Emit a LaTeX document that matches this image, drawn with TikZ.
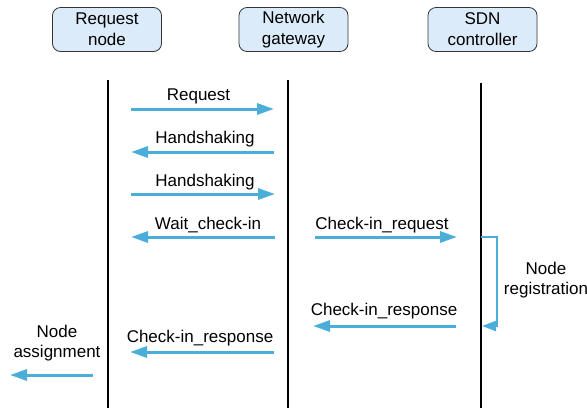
\documentclass[tikz,border=0pt]{standalone}
\usepackage{fontspec}
\setmainfont{Liberation Sans}
\usetikzlibrary{arrows.meta,positioning}

\definecolor{actorfill}{HTML}{DCEBF9}
\definecolor{msgblue}{HTML}{4BADDA}

\begin{document}
\begin{tikzpicture}[x=0.5pt,y=-0.5pt,
    actor/.style={draw=black!80, fill=actorfill, rounded corners=4pt, minimum width=54.5pt,
        minimum height=22pt, align=center, inner sep=0pt, font=\fontsize{8.5}{10.5}\selectfont},
    lbl/.style={font=\fontsize{8.5}{10}\selectfont, align=center, inner sep=0pt},
    msg/.style={draw=msgblue, line width=1.5pt, -{Triangle[length=8.5pt,width=5.5pt]}},
    life/.style={line width=1pt}]
    \useasboundingbox (0,0) rectangle (587,408);

    % the three parties
    \node[actor] (req) at (107,29.5) {Request\\node};
    \node[actor] (gw) at (293.5,29.5) {Network\\gateway};
    \node[actor] (sdn) at (482.5,29.5) {SDN\\controller};

    % the lifelines
    \coordinate (reqtop) at (108,80);
    \coordinate (reqbot) at (108,408);
    \coordinate (gwtop) at (288,80);
    \coordinate (gwbot) at (288,408);
    \coordinate (sdntop) at (481,83);
    \coordinate (sdnbot) at (481,408);
    \draw[life] (reqtop) -- (reqbot);
    \draw[life] (gwtop) -- (gwbot);
    \draw[life] (sdntop) -- (sdnbot);

    % end points of the messages
    \coordinate (m1a) at (131,109);  \coordinate (m1b) at (274,109);
    \coordinate (m2a) at (274,152);  \coordinate (m2b) at (131,152);
    \coordinate (m3a) at (131,194);  \coordinate (m3b) at (275,194);
    \coordinate (m4a) at (275,237);  \coordinate (m4b) at (131,237);
    \coordinate (m5a) at (315,237);  \coordinate (m5b) at (457,237);
    \coordinate (m6a) at (456,326);  \coordinate (m6b) at (313,326);
    \coordinate (m7a) at (274,352);  \coordinate (m7b) at (130,352);
    \coordinate (m8a) at (93,375);   \coordinate (m8b) at (10,375);
    \coordinate (rega) at (481,237); \coordinate (regb) at (482,326);

    % the labels
    \node[lbl, anchor=base] (l1) at (198.5,100) {Request};
    \node[lbl, anchor=base] (l2) at (205,143) {Handshaking};
    \node[lbl, anchor=base] (l3) at (205,186) {Handshaking};
    \node[lbl, anchor=base] (l4) at (208,229) {Wait\_check-in};
    \node[lbl, anchor=base] (l5) at (382,229) {Check-in\_request};
    \node[lbl] (l6) at (546,280.5) {Node\\registration};
    \node[lbl, anchor=base] (l7) at (384,315) {Check-in\_response};
    \node[lbl, anchor=base] (l8) at (200,342) {Check-in\_response};
    \node[lbl] (l9) at (57,343) {Node\\assignment};

    % the messages
    \draw[msg] (m1a) -- (m1b);
    \draw[msg] (m2a) -- (m2b);
    \draw[msg] (m3a) -- (m3b);
    \draw[msg] (m4a) -- (m4b);
    \draw[msg] (m5a) -- (m5b);
    \draw[msg] (m6a) -- (m6b);
    \draw[msg] (m7a) -- (m7b);
    \draw[msg] (m8a) -- (m8b);
    \draw[msg, line width=1.1pt, -{Triangle[length=7pt,width=5pt]}]
        (rega) -- ++(16,0) |- (regb);

\end{tikzpicture}
\end{document}
